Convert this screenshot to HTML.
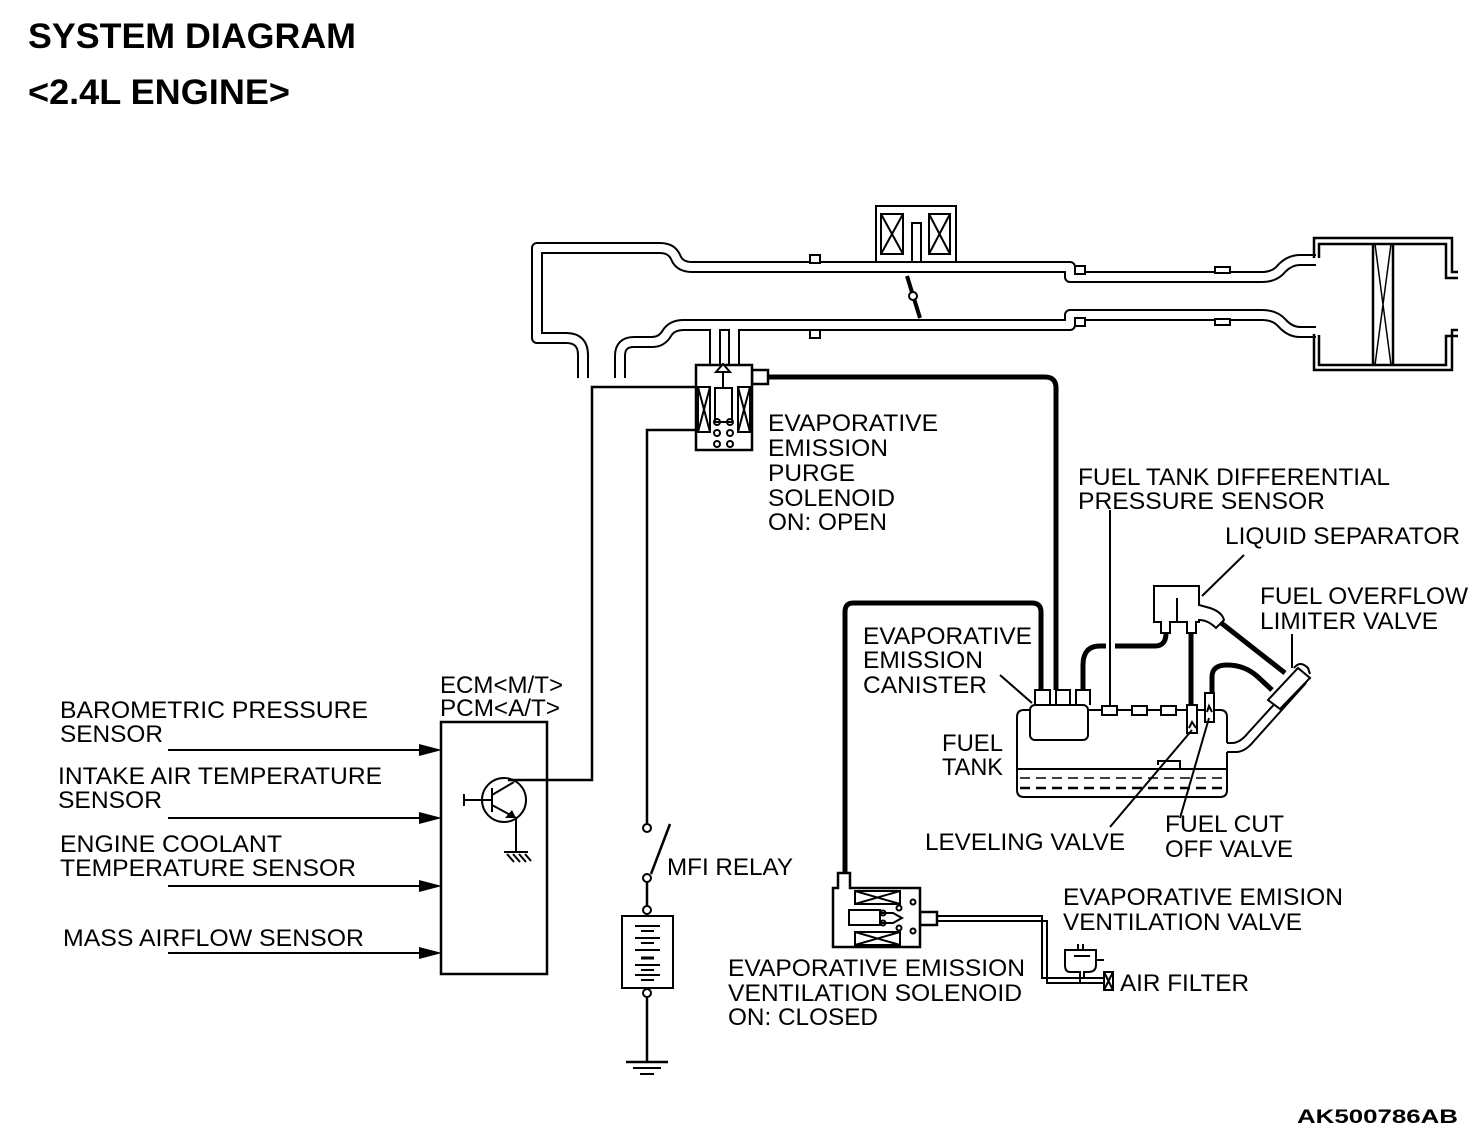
<!DOCTYPE html>
<html><head><meta charset="utf-8"><style>
html,body{margin:0;padding:0;background:#fff}
svg{display:block}
text{font-family:"Liberation Sans",Arial,sans-serif;font-size:24px;fill:#000}
.b{font-weight:bold}
</style></head><body>
<svg width="1472" height="1136" viewBox="0 0 1472 1136" xmlns="http://www.w3.org/2000/svg">
<rect width="1472" height="1136" fill="#fff"/>
<!-- titles -->
<text x="28" y="48" class="b" style="font-size:35px" textLength="328" lengthAdjust="spacingAndGlyphs">SYSTEM DIAGRAM</text>
<text x="28" y="104" class="b" style="font-size:35px" textLength="262" lengthAdjust="spacingAndGlyphs">&lt;2.4L ENGINE&gt;</text>
<text x="1297" y="1123" class="b" style="font-size:19px" textLength="161" lengthAdjust="spacingAndGlyphs">AK500786AB</text>

<!-- intake tubes: black then white -->
<g fill="none" stroke-linejoin="round">
 <g stroke="#000" stroke-width="12">
  <path d="M583,378 V355 Q583,338 566,338 H537 V248 H660 Q672,248 676,258 Q680,267 692,267 H1070 V277 H1262 Q1275,277 1282,268 Q1290,260 1300,260 H1316"/>
  <path d="M620,378 V356 Q620,342 634,342 H652 Q662,342 667,333 Q672,325 684,325 H1070 V315 H1262 Q1275,315 1282,323 Q1290,332 1300,332 H1316"/>
  <path d="M715,366 V326"/>
  <path d="M734,366 V326"/>
 </g>
 <g stroke="#fff" stroke-width="8">
  <path d="M583,380 V355 Q583,338 566,338 H537 V248 H660 Q672,248 676,258 Q680,267 692,267 H1070 V277 H1262 Q1275,277 1282,268 Q1290,260 1300,260 H1318"/>
  <path d="M620,380 V356 Q620,342 634,342 H652 Q662,342 667,333 Q672,325 684,325 H1070 V315 H1262 Q1275,315 1282,323 Q1290,332 1300,332 H1318"/>
  <path d="M715,365 V326"/>
  <path d="M734,365 V326"/>
 </g>
</g>
<!-- flanges -->
<g fill="#fff" stroke="#000" stroke-width="2">
 <rect x="810" y="255" width="10" height="8"/>
 <rect x="810" y="330" width="10" height="8"/>
 <rect x="1215" y="267" width="15" height="6"/>
 <rect x="1215" y="319" width="15" height="6"/>
 <rect x="1075" y="266" width="10" height="8"/>
 <rect x="1075" y="318" width="10" height="8"/>
</g>
<!-- throttle -->
<line x1="907" y1="276" x2="920" y2="318" stroke="#000" stroke-width="4"/>
<circle cx="913" cy="296" r="4" fill="#fff" stroke="#000" stroke-width="2"/>
<!-- top actuator box -->
<g fill="none" stroke="#000" stroke-width="2">
 <path d="M876,262 V206 H956 V262"/>
 <rect x="881" y="214" width="22" height="40"/><path d="M881,214 L903,254 M903,214 L881,254"/>
 <rect x="929" y="214" width="21" height="40"/><path d="M929,214 L950,254 M950,214 L929,254"/>
 <path d="M912,262 V223 H921 V262"/>
</g>
<!-- air cleaner -->
<g fill="none" stroke="#000" stroke-width="2.5">
 <path d="M1314,258 V238 H1452 V272 H1458"/>
 <path d="M1319,258 V244 H1446 V278 H1458"/>
 <path d="M1314,334 V370 H1452 V330 H1458"/>
 <path d="M1319,334 V365 H1446 V336 H1458"/>
 <path d="M1373,244 V365 M1393,244 V365"/>
 <path d="M1375,244 L1391,365 M1391,244 L1375,365" stroke-width="1.5"/>
</g>
<rect x="1316" y="258" width="5" height="77" fill="#fff"/>

<!-- purge solenoid -->
<g fill="#fff" stroke="#000" stroke-width="2.5">
 <rect x="752" y="370" width="16" height="14"/>
 <rect x="696" y="365" width="56" height="85"/>
</g>
<g fill="none" stroke="#000" stroke-width="2">
 <rect x="698" y="387" width="12" height="45"/><path d="M698,387 L710,432 M710,387 L698,432"/>
 <rect x="738" y="387" width="12" height="45"/><path d="M738,387 L750,432 M750,387 L738,432"/>
 <rect x="715" y="388" width="17" height="34"/>
 <path d="M723,388 V372"/>
 <path d="M716,372 L723,364 L730,372 Z" fill="#fff"/>
 <circle cx="717" cy="422" r="3"/><circle cx="730" cy="422" r="3"/>
 <circle cx="717" cy="433" r="3"/><circle cx="730" cy="433" r="3"/>
 <circle cx="717" cy="444" r="3"/><circle cx="730" cy="444" r="3"/>
</g>
<!-- thick hoses -->
<g fill="none" stroke="#000" stroke-width="5" stroke-linejoin="round">
 <path d="M768,377 H1045 Q1056,377 1056,388 V690"/>
 <path d="M1041,690 V612 Q1041,603 1032,603 H853 Q845,603 845,612 V875"/>
 <path d="M1083,690 V665 Q1083,646 1100,646 H1106 M1115,646 H1155 Q1166,646 1166,633"/>
 <path d="M1191,633 V705"/>
 <path d="M1220,622 L1285,673"/>
 <path d="M1212,693 V677 Q1212,665 1227,665 Q1245,665 1258,677 L1272,690"/>
</g>
<!-- wires -->
<g fill="none" stroke="#000" stroke-width="2.5">
 <path d="M696,387 H592 V780 H508"/>
 <path d="M696,430 H647 V824"/>
 <path d="M647,882 V906 M647,914 V916 M647,988 V989 M647,997 V1062"/>
 <line x1="651" y1="874" x2="670" y2="824"/>
</g>
<circle cx="647" cy="828" r="4" fill="#fff" stroke="#000" stroke-width="2"/>
<circle cx="647" cy="878" r="4" fill="#fff" stroke="#000" stroke-width="2"/>
<circle cx="647" cy="910" r="4" fill="#fff" stroke="#000" stroke-width="2"/>
<circle cx="647" cy="993" r="4" fill="#fff" stroke="#000" stroke-width="2"/>
<rect x="622" y="916" width="51" height="72" fill="none" stroke="#000" stroke-width="2"/>
<g stroke="#000" stroke-width="2">
 <line x1="635" y1="926" x2="660" y2="926"/><line x1="641" y1="931" x2="654" y2="931"/>
 <line x1="635" y1="938" x2="660" y2="938"/><line x1="641" y1="943" x2="654" y2="943"/>
 <line x1="635" y1="950" x2="660" y2="950"/><line x1="641" y1="958" x2="654" y2="958" stroke-width="3"/>
 <line x1="635" y1="965" x2="660" y2="965"/><line x1="641" y1="970" x2="654" y2="970"/>
 <line x1="635" y1="975" x2="660" y2="975"/><line x1="641" y1="980" x2="654" y2="980"/>
 <line x1="626" y1="1062" x2="668" y2="1062" stroke-width="2.5"/>
 <line x1="633" y1="1068" x2="661" y2="1068"/>
 <line x1="640" y1="1074" x2="654" y2="1074"/>
</g>
<!-- ECM -->
<rect x="441" y="722" width="106" height="252" fill="none" stroke="#000" stroke-width="2.5"/>
<g fill="none" stroke="#000" stroke-width="2">
 <circle cx="504" cy="800" r="22"/>
 <path d="M465,800 H492 M464,794 V806 M492,788 V812 M492,795 L514,782 M492,805 L516,818 V852"/>
 <path d="M504,852 H528 M507,854 L514,862 M513,854 L520,862 M519,854 L526,862 M525,854 L531,861"/>
</g>
<path d="M516,818 L505,818 L512,810 Z" fill="#000"/>
<!-- input arrows -->
<g stroke="#000" stroke-width="2">
 <line x1="168" y1="750" x2="425" y2="750"/><line x1="168" y1="818" x2="425" y2="818"/>
 <line x1="168" y1="886" x2="425" y2="886"/><line x1="168" y1="953" x2="425" y2="953"/>
</g>
<g fill="#000">
 <path d="M419,744 L442,750 L419,756 Z"/><path d="M419,812 L442,818 L419,824 Z"/>
 <path d="M419,880 L442,886 L419,892 Z"/><path d="M419,947 L442,953 L419,959 Z"/>
</g>

<!-- fuel tank -->
<g fill="none" stroke="#000" stroke-width="2">
 <path d="M1227,743 V717 Q1227,710 1220,710 H1024 Q1017,710 1017,717 V790 Q1017,797 1024,797 H1220 Q1227,797 1227,790 V752"/>
 <line x1="1017" y1="769" x2="1227" y2="769"/>
 <line x1="1020" y1="778" x2="1227" y2="778" stroke-dasharray="10,6" stroke-width="1.5"/>
 <line x1="1020" y1="788" x2="1227" y2="788" stroke-dasharray="10,6" stroke-width="2.5"/>
 <path d="M1158,765 V761 H1180 V769"/>
 <path d="M1227,743 H1232 Q1240,743 1248,733 L1300,676"/>
 <path d="M1227,752 H1236 Q1245,752 1254,741 L1306,683"/>
 <path d="M1268,700 L1298,668 L1310,678 L1280,709 Z" fill="#fff"/>
 <path d="M1294,668 Q1300,660 1308,668 L1310,674"/>
 <line x1="1110" y1="510" x2="1110" y2="706"/>
 <line x1="1088" y1="710" x2="1187" y2="710"/>
</g>
<g fill="#fff" stroke="#000" stroke-width="2">
 <path d="M1035,705 V690 H1050 V705 M1056,705 V690 H1070 V705 M1076,705 V690 H1090 V705" />
 <rect x="1030" y="705" width="58" height="35" rx="5"/>
 <rect x="1102" y="706" width="15" height="9"/>
 <rect x="1132" y="706" width="15" height="9"/>
 <rect x="1161" y="706" width="15" height="9"/>
 <rect x="1187" y="705" width="10" height="28"/>
 <rect x="1205" y="693" width="9" height="29"/>
 <path d="M1154,586 H1199 V605 L1210,608 Q1222,612 1224,620 L1216,628 Q1208,620 1199,620 V622 H1196 V633 H1187 V622 H1170 V633 H1161 V622 H1154 Z"/>
 <line x1="1177" y1="598" x2="1177" y2="622"/>
</g>
<g fill="none" stroke="#000" stroke-width="2">
 <path d="M1189,728 L1192,722 L1196,728"/><path d="M1207,712 L1209,706 L1212,712"/>
</g>
<!-- leaders -->
<g stroke="#000" stroke-width="2">
 <line x1="1000" y1="675" x2="1032" y2="703"/>
 <line x1="1110" y1="827" x2="1192" y2="730"/>
 <line x1="1180" y1="818" x2="1209" y2="718"/>
 <line x1="1244" y1="555" x2="1202" y2="596"/>
 <line x1="1292" y1="634" x2="1292" y2="668"/>
</g>

<!-- vent solenoid -->
<g fill="#fff" stroke="#000" stroke-width="2.5">
 <rect x="920" y="912" width="17" height="13"/>
 <path d="M838,888 V873 H850 V888 H920 V947 H833 V888 Z"/>
</g>
<g fill="none" stroke="#000" stroke-width="2">
 <rect x="855" y="891" width="45" height="13"/><path d="M855,891 L900,904 M900,891 L855,904"/>
 <rect x="855" y="932" width="45" height="13"/><path d="M855,932 L900,945 M900,932 L855,945"/>
 <rect x="849" y="910" width="31" height="15"/>
 <path d="M880,913 H893 L902,918 L893,923 H880"/>
 <circle cx="883" cy="913" r="2.5"/><circle cx="883" cy="923" r="2.5"/>
 <circle cx="899" cy="908" r="2.5"/><circle cx="899" cy="928" r="2.5"/>
 <circle cx="913" cy="902" r="2.5"/><circle cx="913" cy="931" r="2.5"/>
 <path d="M937,916 H1042 V978 H1104 M937,921 H1047 V983 H1104"/>
 <path d="M1065,965 V950 H1096 V965 M1065,965 Q1065,972 1070,972 H1080 V983 M1096,965 Q1096,972 1088,972 H1084 V978"/>
 <path d="M1078,950 V944 M1083,950 V944 M1074,956 H1090 M1096,960 H1104"/>
 <rect x="1104" y="972" width="9" height="18"/><path d="M1104,972 L1113,990 M1113,972 L1104,990"/>
</g>

<!-- labels -->
<text x="440" y="693" textLength="123" lengthAdjust="spacingAndGlyphs">ECM&lt;M/T&gt;</text>
<text x="440" y="716" textLength="120" lengthAdjust="spacingAndGlyphs">PCM&lt;A/T&gt;</text>
<text x="60" y="718" textLength="308" lengthAdjust="spacingAndGlyphs">BAROMETRIC PRESSURE</text>
<text x="60" y="742" textLength="103" lengthAdjust="spacingAndGlyphs">SENSOR</text>
<text x="58" y="784" textLength="324" lengthAdjust="spacingAndGlyphs">INTAKE AIR TEMPERATURE</text>
<text x="58" y="808" textLength="104" lengthAdjust="spacingAndGlyphs">SENSOR</text>
<text x="60" y="852" textLength="222" lengthAdjust="spacingAndGlyphs">ENGINE COOLANT</text>
<text x="60" y="876" textLength="296" lengthAdjust="spacingAndGlyphs">TEMPERATURE SENSOR</text>
<text x="63" y="946" textLength="301" lengthAdjust="spacingAndGlyphs">MASS AIRFLOW SENSOR</text>
<text x="667" y="875" textLength="126" lengthAdjust="spacingAndGlyphs">MFI RELAY</text>
<text x="768" y="431" textLength="170" lengthAdjust="spacingAndGlyphs">EVAPORATIVE</text>
<text x="768" y="456" textLength="120" lengthAdjust="spacingAndGlyphs">EMISSION</text>
<text x="768" y="481" textLength="87" lengthAdjust="spacingAndGlyphs">PURGE</text>
<text x="768" y="506" textLength="127" lengthAdjust="spacingAndGlyphs">SOLENOID</text>
<text x="768" y="530" textLength="119" lengthAdjust="spacingAndGlyphs">ON: OPEN</text>
<text x="1078" y="485" textLength="312" lengthAdjust="spacingAndGlyphs">FUEL TANK DIFFERENTIAL</text>
<text x="1078" y="509" textLength="247" lengthAdjust="spacingAndGlyphs">PRESSURE SENSOR</text>
<text x="1225" y="544" textLength="235" lengthAdjust="spacingAndGlyphs">LIQUID SEPARATOR</text>
<text x="1260" y="604" textLength="208" lengthAdjust="spacingAndGlyphs">FUEL OVERFLOW</text>
<text x="1260" y="629" textLength="178" lengthAdjust="spacingAndGlyphs">LIMITER VALVE</text>
<text x="863" y="644" textLength="169" lengthAdjust="spacingAndGlyphs">EVAPORATIVE</text>
<text x="863" y="668" textLength="120" lengthAdjust="spacingAndGlyphs">EMISSION</text>
<text x="863" y="693" textLength="124" lengthAdjust="spacingAndGlyphs">CANISTER</text>
<text x="942" y="751" textLength="61" lengthAdjust="spacingAndGlyphs">FUEL</text>
<text x="942" y="775" textLength="61" lengthAdjust="spacingAndGlyphs">TANK</text>
<text x="925" y="850" textLength="200" lengthAdjust="spacingAndGlyphs">LEVELING VALVE</text>
<text x="1165" y="832" textLength="119" lengthAdjust="spacingAndGlyphs">FUEL CUT</text>
<text x="1165" y="857" textLength="128" lengthAdjust="spacingAndGlyphs">OFF VALVE</text>
<text x="1063" y="905" textLength="280" lengthAdjust="spacingAndGlyphs">EVAPORATIVE EMISION</text>
<text x="1063" y="930" textLength="239" lengthAdjust="spacingAndGlyphs">VENTILATION VALVE</text>
<text x="1120" y="991" textLength="129" lengthAdjust="spacingAndGlyphs">AIR FILTER</text>
<text x="728" y="976" textLength="297" lengthAdjust="spacingAndGlyphs">EVAPORATIVE EMISSION</text>
<text x="728" y="1001" textLength="294" lengthAdjust="spacingAndGlyphs">VENTILATION SOLENOID</text>
<text x="728" y="1025" textLength="150" lengthAdjust="spacingAndGlyphs">ON: CLOSED</text>
</svg>
</body></html>
